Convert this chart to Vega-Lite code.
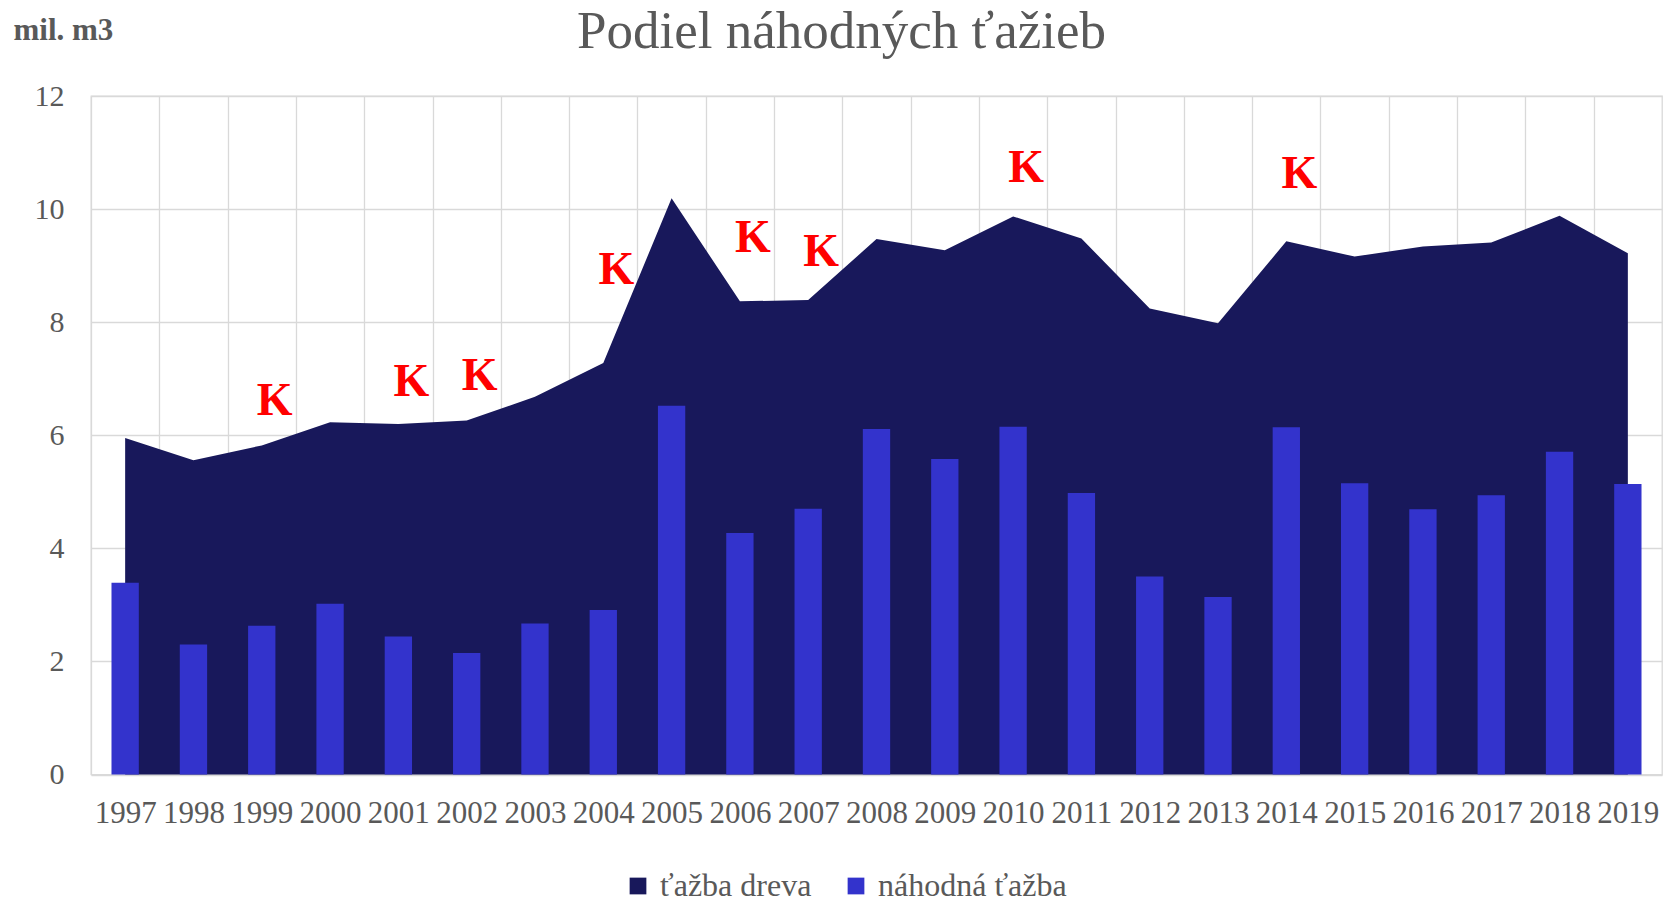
{
  "$schema": "https://vega.github.io/schema/vega-lite/v6.json",
  "autosize": {"type": "none"},
  "width": 1571,
  "height": 678.5,
  "padding": {"left": 91, "top": 96, "right": 13, "bottom": 125.5},
  "background": "white",
  "view": {"stroke": "#d9d9d9", "strokeWidth": 1.3},
  "config": {"legend": {"labelFont": "Liberation Serif"}},
  "title": {
    "text": "Podiel náhodných ťažieb",
    "font": "Liberation Serif",
    "fontSize": 53,
    "fontWeight": "normal",
    "color": "#595959",
    "anchor": "middle",
    "frame": "group",
    "dx": -35,
    "dy": 49
  },
  "datasets": {
    "hodnoty": [
      {"rok": 1997, "ukazovatel": "ťažba dreva", "hodnota": 5.95},
      {"rok": 1998, "ukazovatel": "ťažba dreva", "hodnota": 5.56},
      {"rok": 1999, "ukazovatel": "ťažba dreva", "hodnota": 5.82},
      {"rok": 2000, "ukazovatel": "ťažba dreva", "hodnota": 6.23},
      {"rok": 2001, "ukazovatel": "ťažba dreva", "hodnota": 6.20},
      {"rok": 2002, "ukazovatel": "ťažba dreva", "hodnota": 6.26},
      {"rok": 2003, "ukazovatel": "ťažba dreva", "hodnota": 6.68},
      {"rok": 2004, "ukazovatel": "ťažba dreva", "hodnota": 7.28},
      {"rok": 2005, "ukazovatel": "ťažba dreva", "hodnota": 10.19},
      {"rok": 2006, "ukazovatel": "ťažba dreva", "hodnota": 8.37},
      {"rok": 2007, "ukazovatel": "ťažba dreva", "hodnota": 8.39},
      {"rok": 2008, "ukazovatel": "ťažba dreva", "hodnota": 9.47},
      {"rok": 2009, "ukazovatel": "ťažba dreva", "hodnota": 9.27},
      {"rok": 2010, "ukazovatel": "ťažba dreva", "hodnota": 9.87},
      {"rok": 2011, "ukazovatel": "ťažba dreva", "hodnota": 9.48},
      {"rok": 2012, "ukazovatel": "ťažba dreva", "hodnota": 8.24},
      {"rok": 2013, "ukazovatel": "ťažba dreva", "hodnota": 7.98},
      {"rok": 2014, "ukazovatel": "ťažba dreva", "hodnota": 9.43},
      {"rok": 2015, "ukazovatel": "ťažba dreva", "hodnota": 9.16},
      {"rok": 2016, "ukazovatel": "ťažba dreva", "hodnota": 9.34},
      {"rok": 2017, "ukazovatel": "ťažba dreva", "hodnota": 9.41},
      {"rok": 2018, "ukazovatel": "ťažba dreva", "hodnota": 9.88},
      {"rok": 2019, "ukazovatel": "ťažba dreva", "hodnota": 9.22},
      {"rok": 1997, "ukazovatel": "náhodná ťažba", "hodnota": 3.39},
      {"rok": 1998, "ukazovatel": "náhodná ťažba", "hodnota": 2.30},
      {"rok": 1999, "ukazovatel": "náhodná ťažba", "hodnota": 2.63},
      {"rok": 2000, "ukazovatel": "náhodná ťažba", "hodnota": 3.02},
      {"rok": 2001, "ukazovatel": "náhodná ťažba", "hodnota": 2.44},
      {"rok": 2002, "ukazovatel": "náhodná ťažba", "hodnota": 2.15},
      {"rok": 2003, "ukazovatel": "náhodná ťažba", "hodnota": 2.67},
      {"rok": 2004, "ukazovatel": "náhodná ťažba", "hodnota": 2.91},
      {"rok": 2005, "ukazovatel": "náhodná ťažba", "hodnota": 6.52},
      {"rok": 2006, "ukazovatel": "náhodná ťažba", "hodnota": 4.27},
      {"rok": 2007, "ukazovatel": "náhodná ťažba", "hodnota": 4.70},
      {"rok": 2008, "ukazovatel": "náhodná ťažba", "hodnota": 6.11},
      {"rok": 2009, "ukazovatel": "náhodná ťažba", "hodnota": 5.58},
      {"rok": 2010, "ukazovatel": "náhodná ťažba", "hodnota": 6.15},
      {"rok": 2011, "ukazovatel": "náhodná ťažba", "hodnota": 4.98},
      {"rok": 2012, "ukazovatel": "náhodná ťažba", "hodnota": 3.50},
      {"rok": 2013, "ukazovatel": "náhodná ťažba", "hodnota": 3.14},
      {"rok": 2014, "ukazovatel": "náhodná ťažba", "hodnota": 6.14},
      {"rok": 2015, "ukazovatel": "náhodná ťažba", "hodnota": 5.15},
      {"rok": 2016, "ukazovatel": "náhodná ťažba", "hodnota": 4.69},
      {"rok": 2017, "ukazovatel": "náhodná ťažba", "hodnota": 4.94},
      {"rok": 2018, "ukazovatel": "náhodná ťažba", "hodnota": 5.71},
      {"rok": 2019, "ukazovatel": "náhodná ťažba", "hodnota": 5.14}
    ],
    "kalamity": [
      {"rok": 1999, "hodnota": 6.61, "znak": "K"},
      {"rok": 2001, "hodnota": 6.94, "znak": "K"},
      {"rok": 2002, "hodnota": 7.05, "znak": "K"},
      {"rok": 2004, "hodnota": 8.93, "znak": "K"},
      {"rok": 2006, "hodnota": 9.49, "znak": "K"},
      {"rok": 2007, "hodnota": 9.24, "znak": "K"},
      {"rok": 2010, "hodnota": 10.73, "znak": "K"},
      {"rok": 2014, "hodnota": 10.62, "znak": "K"}
    ]
  },
  "encoding": {
    "x": {
      "field": "rok",
      "type": "ordinal",
      "scale": {"paddingInner": 0.6, "paddingOuter": 0.3},
      "axis": {
        "title": null,
        "labelAngle": 0,
        "labelFont": "Liberation Serif",
        "labelFontSize": 31,
        "labelColor": "#595959",
        "labelPadding": 24,
        "labelOverlap": false,
        "labelBound": false,
        "ticks": false,
        "domain": true,
        "domainColor": "#d9d9d9",
        "domainWidth": 1.3,
        "grid": true,
        "gridColor": "#d9d9d9",
        "gridWidth": 1.3,
        "bandPosition": 0.5,
        "tickOffset": -34.15,
        "labelOffset": 34.15
      }
    },
    "y": {
      "field": "hodnota",
      "type": "quantitative",
      "scale": {"domain": [0, 12], "nice": false, "zero": true},
      "axis": {
        "values": [0, 2, 4, 6, 8, 10, 12],
        "grid": true,
        "gridColor": "#d9d9d9",
        "gridWidth": 1.3,
        "domain": false,
        "ticks": false,
        "labelFont": "Liberation Serif",
        "labelFontSize": 30,
        "labelColor": "#595959",
        "labelPadding": 27,
        "title": "mil. m3",
        "titleFont": "Liberation Serif",
        "titleFontSize": 31,
        "titleFontWeight": "bold",
        "titleColor": "#595959",
        "titleAngle": 0,
        "titleAlign": "left",
        "titleBaseline": "middle",
        "titleX": -78,
        "titleY": -66
      }
    }
  },
  "layer": [
    {
      "data": {"name": "hodnoty"},
      "transform": [{"filter": "datum.ukazovatel === 'ťažba dreva'"}],
      "mark": {"type": "area", "interpolate": "linear"},
      "encoding": {
        "x": {"field": "rok", "type": "ordinal", "bandPosition": 0.5},
        "color": {
          "field": "ukazovatel",
          "type": "nominal",
          "scale": {"domain": ["ťažba dreva", "náhodná ťažba"], "range": ["#18185B", "#3333CC"]},
          "legend": {
            "orient": "none",
            "legendX": 531,
            "legendY": 774,
            "direction": "horizontal",
            "title": null,
            "symbolType": "square",
            "symbolSize": 280,
            "symbolStrokeWidth": 0,
            "labelFont": "Liberation Serif",
            "labelFontSize": 32,
            "labelColor": "#595959",
            "labelOffset": 6,
            "columnPadding": 28,
            "labelLimit": 400,
            "padding": 0
          }
        }
      }
    },
    {
      "data": {"name": "hodnoty"},
      "transform": [{"filter": "datum.ukazovatel === 'náhodná ťažba'"}],
      "mark": {"type": "bar"},
      "encoding": {
        "color": {"field": "ukazovatel", "type": "nominal"}
      }
    },
    {
      "data": {"name": "kalamity"},
      "mark": {
        "type": "text",
        "font": "Liberation Serif",
        "fontWeight": "bold",
        "fontSize": 46,
        "color": "#FF0000",
        "align": "center",
        "baseline": "middle",
        "dx": 13
      },
      "encoding": {
        "x": {"field": "rok", "type": "ordinal", "bandPosition": 0.5},
        "text": {"field": "znak"}
      }
    }
  ]
}
